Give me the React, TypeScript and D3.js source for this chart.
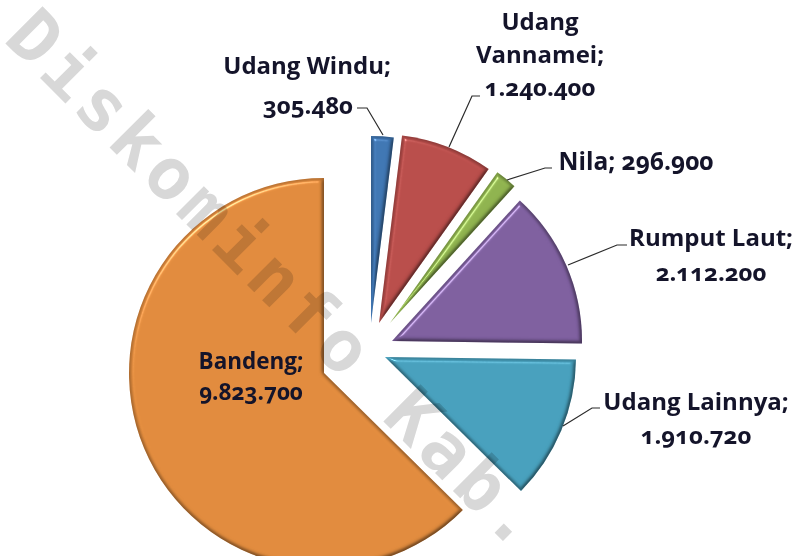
import React from 'react';
import * as d3 from 'd3';

const width = 796;
const height = 556;

const categories = ['Udang Windu', 'Udang Vannamei', 'Nila', 'Rumput Laut', 'Udang Lainnya', 'Bandeng'];
const values = [305480, 1240400, 296900, 2112200, 1910720, 9823700];
const colors = ['#3f76b3', '#b94d4a', '#8fb34e', '#7e5f9f', '#47a0bd', '#e18b3d'];

// exploded slices: offset of each apex from the pie centre, and radius
const centerX = 358;
const centerY = 350;
const explodeX = [13, 21, 32, 34, 27, -34];
const explodeY = [-27, -27, -27, -9, 7, 23];
const radii = [187, 189, 185, 190, 191, 195];

// label lines, anchor x, baseline y
const labelLines = [
  [['Udang Windu;', 307, 74], ['$', 308, 114]],
  [['Udang', 540, 30], ['Vannamei;', 540, 63], ['$', 540, 96]],
  [['Nila; $', 636, 170]],
  [['Rumput Laut;', 711, 246], ['$', 711, 281]],
  [['Udang Lainnya;', 696, 410], ['$', 696, 444]],
  [['Bandeng;', 251, 369], ['$', 251, 400]],
];
const labelSizes = [24, 24, 24.5, 24, 24, 22.5];

// leader lines
const leaders = [
  [[357, 108], [367, 108], [383, 135]],
  [[480, 96], [472, 96], [449, 147]],
  [[552, 168], [545, 168], [507, 180]],
  [[627, 245], [617, 245], [568, 265]],
  [[600, 408], [592, 408], [563, 426]],
];

const fmt = d3.formatLocale({ decimal: ',', thousands: '.', grouping: [3], currency: ['', ''] }).format(',d');

const App = () => {
  const pie = d3.pie<number>().sort(null)(values);
  const arc = d3.arc<d3.PieArcDatum<number>>().innerRadius(0);
  const line = d3.line();

  return (
    <svg
      width={width}
      height={height}
      style={{ position: 'absolute', left: 0, top: 0, background: '#fff' }}
    >
      <defs>
        <filter id="bevel" x="-5%" y="-5%" width="110%" height="110%" colorInterpolationFilters="sRGB">
          <feGaussianBlur in="SourceAlpha" stdDeviation="2" result="blur" />
          <feDiffuseLighting in="blur" surfaceScale="3" diffuseConstant="1.02" lightingColor="#ffffff" result="diff">
            <feDistantLight azimuth="235" elevation="78" />
          </feDiffuseLighting>
          <feComposite in="diff" in2="SourceAlpha" operator="in" result="diffIn" />
          <feBlend in="SourceGraphic" in2="diffIn" mode="multiply" result="shaded" />
          <feSpecularLighting in="blur" surfaceScale="4" specularConstant="0.6" specularExponent="45" lightingColor="#ffffff" result="spec">
            <feDistantLight azimuth="235" elevation="42" />
          </feSpecularLighting>
          <feComposite in="spec" in2="SourceAlpha" operator="in" result="specIn" />
          <feComposite in="shaded" in2="specIn" operator="arithmetic" k1="0" k2="1" k3="0.7" k4="0" />
        </filter>
      </defs>

      {pie.map((d, i) => (
        <path
          key={categories[i]}
          d={arc({ ...d, outerRadius: radii[i] } as any) as string}
          transform={`translate(${centerX + explodeX[i]},${centerY + explodeY[i]})`}
          fill={colors[i]}
          filter="url(#bevel)"
        />
      ))}

      {leaders.map((pts, i) => (
        <path key={i} d={line(pts as [number, number][]) as string} fill="none" stroke="#2b2b2b" strokeWidth={1.2} />
      ))}

      {labelLines.map((lines, i) =>
        lines.map(([txt, x, y]) => (
          <text
            key={`${i}-${txt}`}
            x={x as number}
            y={y as number}
            textAnchor="middle"
            fontFamily="'Open Sans', Lato, sans-serif"
            fontWeight={700}
            fontSize={labelSizes[i]}
            fill="#14142a"
            style={{ fontVariantNumeric: 'oldstyle-nums' }}
          >
            {(txt as string).replace('$', fmt(values[i]))}
          </text>
        ))
      )}

      <text
        transform="translate(2,40) rotate(45)"
        fontFamily="'DejaVu Sans Mono', monospace"
        fontWeight={700}
        fontSize={72}
        letterSpacing={5.3}
        fill="#d8d8d8"
        style={{ mixBlendMode: 'multiply' }}
      >
        Diskominfo Kab.
      </text>
    </svg>
  );
};

export default App;
